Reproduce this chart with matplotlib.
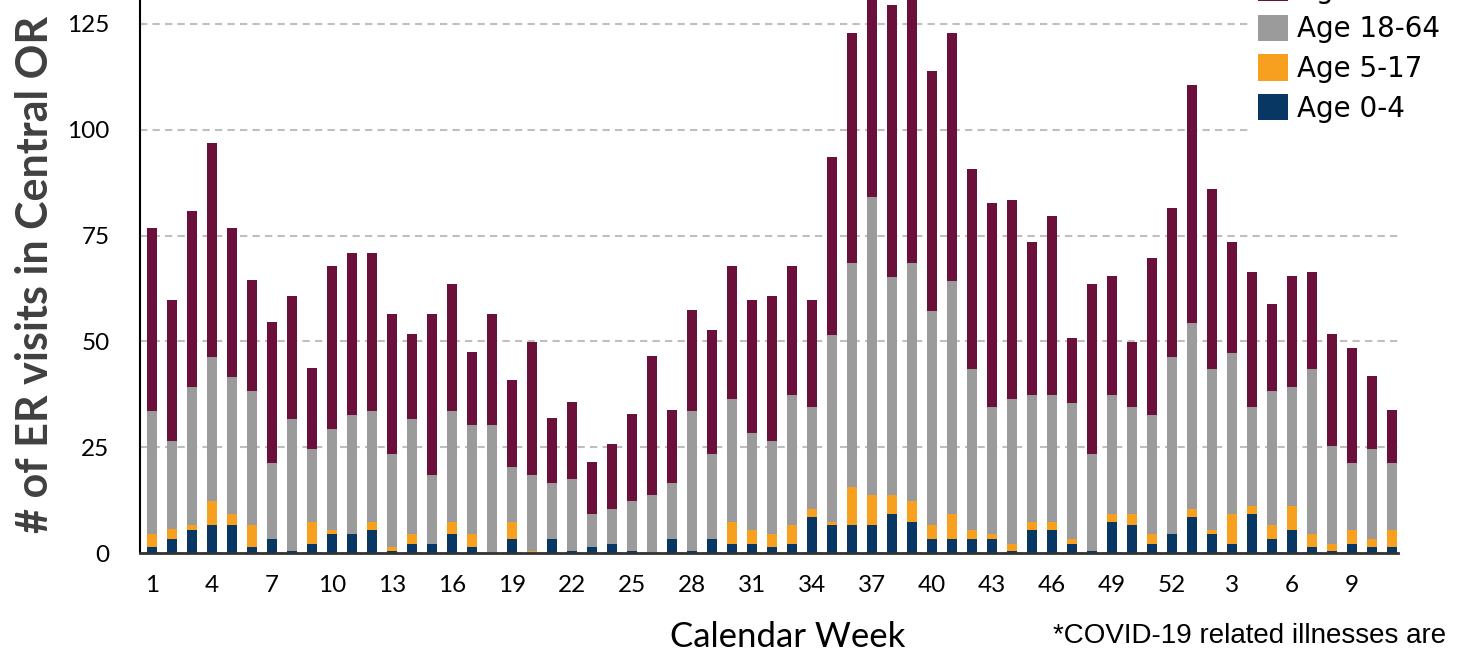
import matplotlib
matplotlib.use("Agg")
import matplotlib.pyplot as plt
import numpy as np

# weekly ER visits by age group
weeks = list(range(1, 53)) + list(range(1, 12))

age_0_4 = [1.3, 3.2, 5.5, 6.6, 6.6, 1.3, 3.2, 0.4, 2.2, 4.6,
           4.6, 5.5, 0.4, 2.2, 2.2, 4.6, 1.3, 0.0, 3.2, 0.0,
           3.2, 0.4, 1.3, 2.2, 0.4, 0.0, 3.2, 0.4, 3.2, 2.2,
           2.2, 1.3, 2.2, 8.4, 6.6, 6.6, 6.6, 9.3, 7.4, 3.2,
           3.2, 3.2, 3.2, 0.4, 5.5, 5.5, 2.2, 0.4, 7.4, 6.6,
           2.2, 4.6, 8.4, 4.6, 2.2, 9.3, 3.2, 5.5, 1.3, 0.4,
           2.2, 1.3, 1.3]
age_5_17 = [3.3, 2.4, 1.1, 5.6, 2.7, 5.3, 0.0, 0.0, 5.2, 0.9,
            0.0, 1.9, 0.9, 2.4, 0.0, 2.8, 3.3, 0.0, 4.2, 0.4,
            0.0, 0.0, 0.0, 0.0, 0.0, 0.0, 0.0, 0.0, 0.0, 5.2,
            3.3, 3.3, 4.4, 1.9, 0.8, 8.9, 7.0, 4.3, 4.8, 3.4,
            6.1, 2.3, 1.4, 1.8, 1.9, 1.9, 1.0, 0.0, 1.9, 2.7,
            2.4, 0.0, 1.9, 0.9, 7.1, 1.9, 3.4, 5.7, 3.3, 1.8,
            3.3, 1.9, 4.2]
age_18_64 = [28.9, 20.8, 32.6, 34.1, 32.2, 31.7, 18.0, 31.2, 17.1, 23.7,
             28.0, 26.1, 22.2, 27.0, 16.2, 26.1, 25.6, 30.2, 12.9, 18.0,
             13.3, 17.0, 8.0, 8.1, 11.8, 13.6, 13.3, 33.1, 20.3, 29.0,
             22.8, 21.8, 30.7, 24.2, 44.1, 53.1, 70.6, 51.7, 56.4, 50.6,
             55.0, 37.9, 29.9, 34.2, 29.9, 29.9, 32.2, 23.1, 28.0, 25.2,
             28.0, 41.7, 44.1, 37.9, 37.9, 23.3, 31.7, 28.0, 38.8, 23.2,
             15.7, 21.3, 15.7]
age_65 = [43.4, 33.4, 41.5, 50.5, 35.4, 26.3, 33.4, 29.2, 19.2, 38.7,
          38.2, 37.3, 33.0, 20.1, 38.1, 30.1, 17.3, 26.3, 20.6, 31.4,
          15.3, 18.2, 12.1, 15.4, 20.6, 32.9, 17.2, 23.9, 29.2, 31.5,
          31.5, 34.4, 30.6, 25.3, 42.0, 54.3, 53.0, 64.3, 65.4, 56.7,
          58.6, 47.3, 48.1, 47.1, 36.3, 42.4, 15.4, 40.1, 28.2, 15.3,
          37.2, 35.3, 56.2, 42.5, 26.4, 32.0, 20.6, 26.3, 23.1, 26.3,
          27.2, 17.3, 12.5]

series = [("Age 0-4", age_0_4, "#083763"),
          ("Age 5-17", age_5_17, "#F7A020"),
          ("Age 18-64", age_18_64, "#9B9B9B"),
          ("Age 65+", age_65, "#6B0F3B")]

W, H = 1462, 652
fig = plt.figure(figsize=(W / 100, H / 100), dpi=100)
# axes top goes above the figure edge (the reference is cropped there)
ax = fig.add_axes([140 / W, 99 / H, 1258 / W, 634.8 / H])

x = np.arange(1, len(weeks) + 1)
bottom = np.zeros(len(weeks))
handles = []
for name, vals, col in series:
    b = ax.bar(x, vals, width=0.5, bottom=bottom, color=col, label=name, zorder=3)
    handles.append(b)
    bottom += np.array(vals)

ax.set_xlim(0.4, 63.3)
ax.set_ylim(0, 150)
ax.set_yticks([0, 25, 50, 75, 100, 125, 150])
ax.set_xticks(x[::3])
ax.set_xticklabels([str(w) for w in weeks[::3]])
ax.tick_params(axis="y", length=0, pad=22, labelsize=17.5)
ax.tick_params(axis="x", length=0, pad=16, labelsize=17.5)
for lab in ax.get_xticklabels() + ax.get_yticklabels():
    lab.set_fontfamily("Lato")

ax.yaxis.grid(True, linestyle=(0, (3.5, 2.5)), color="#bfbfbf", lw=1.5, zorder=0)
ax.set_axisbelow(True)
for s in ["top", "right"]:
    ax.spines[s].set_visible(False)
ax.spines["left"].set_color("black")
ax.spines["left"].set_linewidth(1.5)
ax.spines["bottom"].set_color("#333333")
ax.spines["bottom"].set_linewidth(2)
ax.spines["bottom"].set_zorder(4)

leg = fig.legend(handles[::-1], [s[0] for s in series][::-1],
                 loc="lower left", bbox_to_anchor=(1250 / W, (H - 131) / H),
                 prop={"family": "DejaVu Sans", "size": 20},
                 handlelength=1.08, handleheight=1.08, handletextpad=0.3,
                 labelspacing=0.4, borderpad=0.3, borderaxespad=0,
                 frameon=True, fancybox=False)
leg.get_frame().set_facecolor("white")
leg.get_frame().set_edgecolor("white")
leg.get_frame().set_alpha(1)

fig.text(35 / W, (H - 274) / H, "# of ER visits in Central OR", rotation=90,
         ha="center", va="center", fontsize=31, fontweight="bold",
         family="Lato", color="#404040")
fig.text(788 / W, (H - 647) / H, "Calendar Week", ha="center", va="baseline",
         fontsize=25, family="Lato", color="black")
fig.text(1053 / W, (H - 643) / H, "*COVID-19 related illnesses are",
         ha="left", va="baseline", fontsize=20, family="Liberation Sans")
fig.text(1249 / W, (H - 672) / H, "not included in this chart",
         ha="center", va="baseline", fontsize=20, family="Liberation Sans")

fig.savefig("out.png", dpi=100)
